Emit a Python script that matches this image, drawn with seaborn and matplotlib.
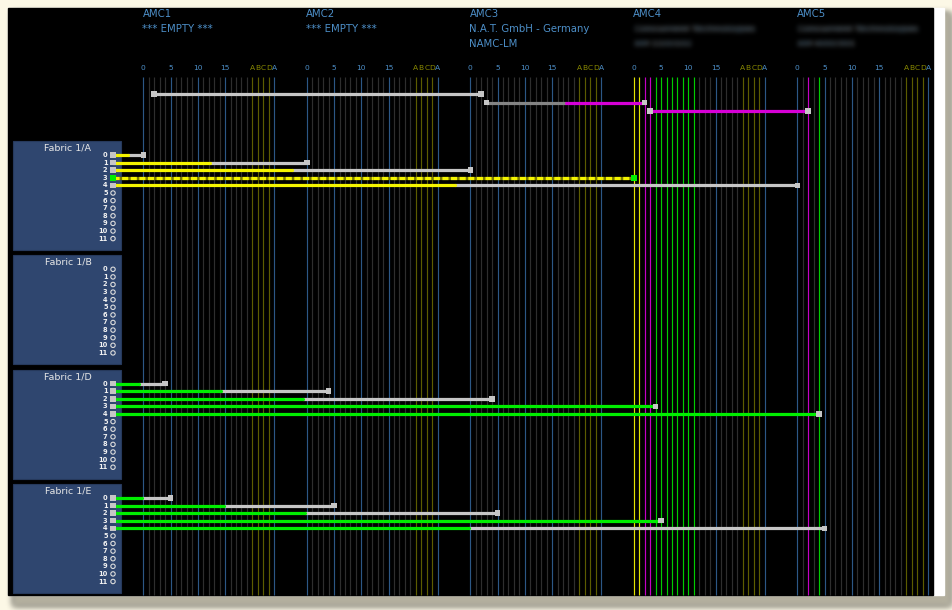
import numpy as np
import pandas as pd
import matplotlib
matplotlib.use('Agg')
import matplotlib.pyplot as plt
import seaborn as sns
from matplotlib.patches import Rectangle

# AMC slots (header)
amc_names = ['AMC1', 'AMC2', 'AMC3', 'AMC4', 'AMC5']
amc_vendor = ['*** EMPTY ***', '*** EMPTY ***', 'N.A.T. GmbH - Germany',
              'Concurrent Technologies', 'Concurrent Technologies']
amc_model = ['', '', 'NAMC-LM', 'AM 110/102', 'AM 400/301']
amc_hidden = [False, False, False, True, True]

# port columns per AMC: 0..19 then A B C D A
n_ports = 25
amc_pitch = 30
port_ticks = [0, 5, 10, 15, 20, 21, 22, 23, 24]
port_tick_labels = ['0', '5', '10', '15', 'A', 'B', 'C', 'D', 'A']

# port lines that are lit
lit_amc = [3] * 12 + [4, 4]
lit_port = [0, 1, 2, 3, 4, 5, 6, 7, 8, 9, 10, 11, 2, 4]
lit_state = ['yellow', 'yellow', 'magenta', 'magenta'] + ['green'] * 8 + ['magenta', 'green']

# AMC <-> AMC links (top rows)
top_src_amc = [0, 2, 3]
top_src_port = [2, 3, 3]
top_dst_amc = [2, 3, 4]
top_dst_port = [2, 2, 2]
top_near = ['idle', 'dim', 'magenta']
top_far = ['idle', 'magenta', 'magenta']

# fabric switches and their links
fabric_names = ['Fabric 1/A', 'Fabric 1/B', 'Fabric 1/D', 'Fabric 1/E']
fabric_ports = [str(i) for i in range(12)]
link_fabric = [0] * 5 + [2] * 5 + [3] * 5
link_port = [0, 1, 2, 3, 4] * 3
link_amc = [0, 1, 2, 3, 4] * 3
link_amc_port = [0] * 5 + [4] * 5 + [5] * 5
link_near = ['yellow', 'yellow', 'yellow', 'yellow_dash', 'yellow'] + ['green'] * 10
link_far = ['idle', 'idle', 'idle', 'yellow_dash', 'idle',
            'idle', 'idle', 'idle', 'green', 'green',
            'idle', 'idle', 'idle', 'green', 'idle']
link_end = ['idle'] * 3 + ['green'] + ['idle'] * 11

# ---- styling / layout
state_colors = {'idle': '#c6c6c6', 'dim': '#848484', 'yellow': '#f4f400',
                'magenta': '#d600d6', 'green': '#00ee00', 'yellow_dash': '#f4f400'}
lit_colors = {'yellow': '#e2e200', 'magenta': '#c400c4', 'green': '#00cc00'}
BLUE_LINE, GRAY_LINE, OLIVE_LINE = '#2c5785', '#2e2e2e', '#5c5c00'
TXT_BLUE, TXT_OLIVE = '#4d8fc8', '#8a8a00'

PX0, PXS = 143.3, 5.45          # pixel of port 0 of AMC1, pixels per port
def px2x(p):
    return (p - PX0) / PXS

W, H = 952, 610
TOP_ROWS = [94, 102.5, 111]
FAB_TOP, FAB_PITCH, FAB_H = 141, 114.3, 109
ROW0, ROW_STEP = 14, 7.6
HUB_X = px2x(113)
GRID_Y = (77, 595)


def blur(sigma):
    def f(im, dpi):
        pad = int(3 * sigma)
        a = np.pad(im, [(pad, pad), (pad, pad), (0, 0)])
        k = np.exp(-0.5 * (np.arange(-pad, pad + 1) / sigma) ** 2)
        k /= k.sum()
        a = np.apply_along_axis(lambda m: np.convolve(m, k, mode='same'), 0, a)
        a = np.apply_along_axis(lambda m: np.convolve(m, k, mode='same'), 1, a)
        return a, -pad, -pad
    return f


sns.set_theme(style='white')
plt.rcParams['font.family'] = ['DejaVu Sans']
plt.rcParams['lines.scale_dashes'] = False

fig = plt.figure(figsize=(W / 100, H / 100), dpi=100, facecolor='#fcf8e6')
ax = fig.add_axes([0, 0, 1, 1])

# panel + shadow
sh = Rectangle((px2x(13), 13), (950 - 13) / PXS, 592, color='#b4b09f', zorder=0)
sh.set_agg_filter(blur(3))
ax.add_patch(sh)
ax.add_patch(Rectangle((px2x(8), 8), (944 - 8) / PXS, 587, color='white', zorder=0.5))
ax.add_patch(Rectangle((px2x(8), 8), (933 - 8) / PXS, 587, color='black', zorder=0.6))

# vertical port lines
lit = {(a, p): s for a, p, s in zip(lit_amc, lit_port, lit_state)}
xs, cols = [], []
for a in range(len(amc_names)):
    for p in range(n_ports):
        if (a, p) in lit:
            c = lit_colors[lit[(a, p)]]
        elif p in (0, 5, 10, 15, 24):
            c = BLUE_LINE
        elif 20 <= p <= 23:
            c = OLIVE_LINE
        else:
            c = GRAY_LINE
        xs.append(a * amc_pitch + p)
        cols.append(c)
ax.vlines(xs, GRID_Y[0], GRID_Y[1], colors=cols, lw=0.85, zorder=1)

# header text and port tick labels
for a, name in enumerate(amc_names):
    x0 = a * amc_pitch - 0.15
    t = [ax.text(x0, 14, name, color=TXT_BLUE, fontsize=7.3, va='center', ha='left')]
    t.append(ax.text(x0, 29, amc_vendor[a], color=TXT_BLUE, fontsize=7.3, va='center', ha='left'))
    if amc_model[a]:
        t.append(ax.text(x0, 44, amc_model[a], color=TXT_BLUE, fontsize=7.3, va='center', ha='left'))
    if amc_hidden[a]:
        for tt in t[1:]:
            tt.set_agg_filter(blur(3))
            tt.set_color('#34607f')
    for p, lab in zip(port_ticks, port_tick_labels):
        c = TXT_OLIVE if 20 <= p <= 23 else TXT_BLUE
        ax.text(a * amc_pitch + p, 68.5, lab, color=c, fontsize=5.4, ha='center', va='center')

# fabric boxes
for f, name in enumerate(fabric_names):
    top = FAB_TOP + f * FAB_PITCH
    ax.add_patch(Rectangle((px2x(12.5), top), (121 - 12.5) / PXS, FAB_H,
                           fc='#2f466f', ec='#26395c', lw=0.8, zorder=2))
    ax.text(px2x(68), top + 7, name, color='#e6e6e6', fontsize=6.8,
            ha='center', va='center', zorder=3)
    used = [p for lf, p in zip(link_fabric, link_port) if lf == f]
    for i, lab in enumerate(fabric_ports):
        y = top + ROW0 + i * ROW_STEP
        ax.text(px2x(107.5), y, lab, color='#f2f2f2', fontsize=4.8, fontweight='bold',
                ha='right', va='center', zorder=3)
    free = [top + ROW0 + i * ROW_STEP for i in range(len(fabric_ports)) if i not in used]
    ax.scatter([HUB_X] * len(free), free, s=10, marker='o', facecolors='none',
               edgecolors='#dcdcdc', linewidths=0.8, zorder=3)

# link segments (two halves per link) and end markers
segs, marks = [], []
for i in range(len(top_src_amc)):
    x0 = top_src_amc[i] * amc_pitch + top_src_port[i]
    x1 = top_dst_amc[i] * amc_pitch + top_dst_port[i]
    y, xm = TOP_ROWS[i], (x0 + x1) / 2
    segs += [dict(seg=f't{i}n', x=x0, y=y, state=top_near[i]),
             dict(seg=f't{i}n', x=xm, y=y, state=top_near[i]),
             dict(seg=f't{i}f', x=xm, y=y, state=top_far[i]),
             dict(seg=f't{i}f', x=x1, y=y, state=top_far[i])]
    marks += [dict(x=x0, y=y, state='idle'), dict(x=x1, y=y, state='idle')]
for i in range(len(link_fabric)):
    y = FAB_TOP + link_fabric[i] * FAB_PITCH + ROW0 + link_port[i] * ROW_STEP
    x0, x1 = HUB_X, link_amc[i] * amc_pitch + link_amc_port[i]
    xm = (x0 + x1) / 2
    segs += [dict(seg=f'l{i}n', x=x0, y=y, state=link_near[i]),
             dict(seg=f'l{i}n', x=xm, y=y, state=link_near[i]),
             dict(seg=f'l{i}f', x=xm, y=y, state=link_far[i]),
             dict(seg=f'l{i}f', x=x1, y=y, state=link_far[i])]
    marks += [dict(x=x0, y=y, state=link_end[i]), dict(x=x1, y=y, state=link_end[i])]
segs = pd.DataFrame(segs)
marks = pd.DataFrame(marks)

solid = segs[segs.state != 'yellow_dash']
sns.lineplot(data=solid, x='x', y='y', units='seg', estimator=None, hue='state',
             palette=state_colors, sort=False, lw=2.3, legend=False, ax=ax, zorder=4)
dash = segs[segs.state == 'yellow_dash']
for s, g in dash.groupby('seg'):
    ax.plot(g.x, g.y, color='#7a7a00', lw=2.3, zorder=4, solid_capstyle='butt')
    ax.plot(g.x, g.y, color=state_colors['yellow_dash'], lw=2.3, zorder=4.1,
            dashes=(4.4, 1.8), dash_capstyle='butt')
sns.scatterplot(data=marks, x='x', y='y', hue='state', palette=state_colors,
                marker='s', s=16, linewidth=0, legend=False, ax=ax, zorder=5)
ax.set_xlim(px2x(0), px2x(W))
ax.set_ylim(H, 0)
ax.axis('off')

fig.savefig('out.png', dpi=100, facecolor=fig.get_facecolor())
